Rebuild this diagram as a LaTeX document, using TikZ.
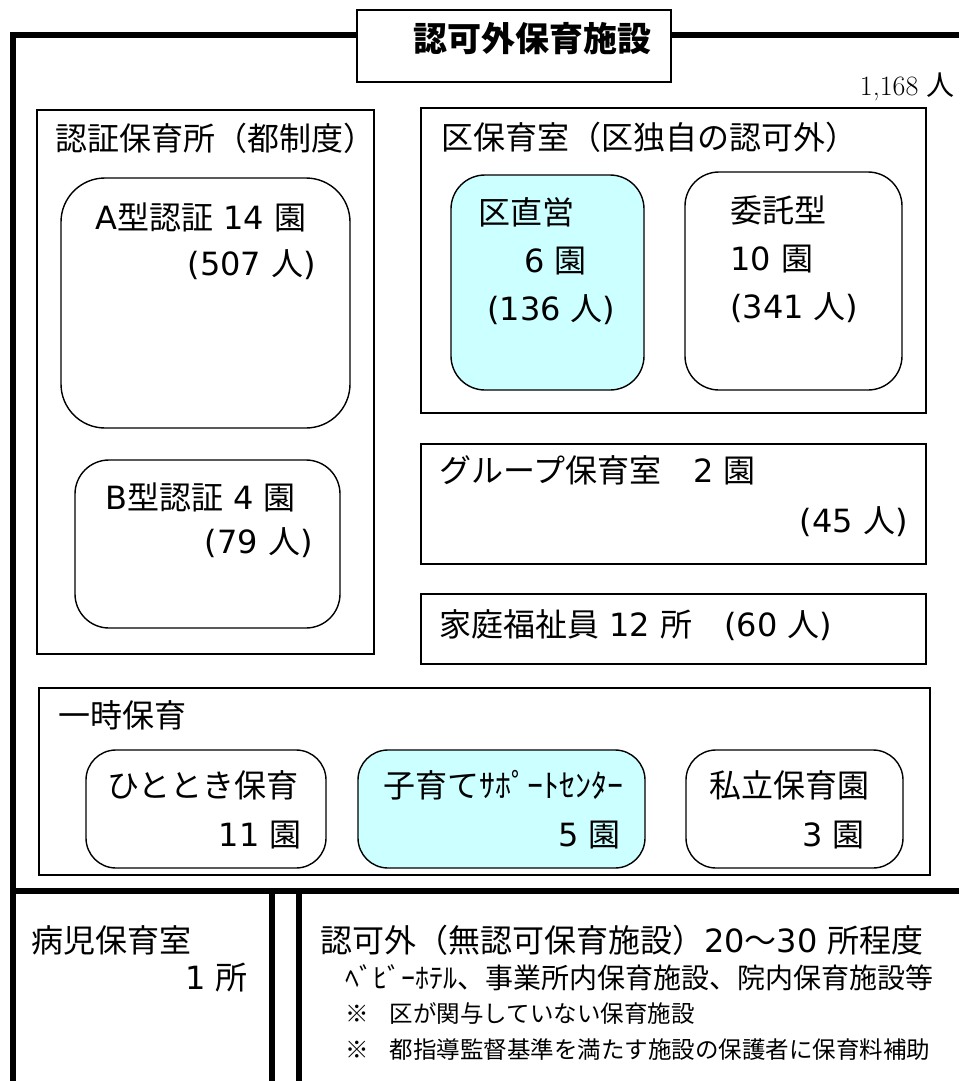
\documentclass[tikz,border=0pt]{standalone}
\usepackage{fontspec}
\newfontfamily\jpfont{Noto Sans CJK JP}
\newfontfamily\numfont{DejaVu Sans}
\usepackage{xcolor}
\usetikzlibrary{positioning}
\definecolor{paleCyan}{HTML}{CCFFFF}
% digits and brackets in a wider face
\newcommand\nm[1]{{\numfont #1}}

\begin{document}
\begin{tikzpicture}[x=1pt,y=-1pt,
    frame/.style={line width=5.5pt},
    box/.style={draw, line width=1.5pt},
    unit/.style={draw, line width=1.4pt, rounded corners=34pt},
    lbl/.style={inner sep=0pt, anchor=west, font=\jpfont\fontsize{32}{38}\selectfont},
    rlbl/.style={lbl, anchor=east},
    note/.style={lbl, font=\jpfont\fontsize{23.5}{28}\selectfont}]
    \useasboundingbox (0,0) rectangle (959,1081);

    % Thick outer frame and bottom split
    \draw[frame] (13,1081) -- (13,35) -- (959,35);
    \draw[frame] (13,891) -- (959,891);
    \draw[frame] (272,891) -- (272,1081);
    \draw[frame] (299,891) -- (299,1081);

    % Title
    \filldraw[box, fill=white] (357,10) rectangle (671,82);
    \node[lbl, anchor=center, font=\jpfont\bfseries\fontsize{34}{40}\selectfont] (title) at (532,39) {認可外保育施設};
    \node[inner sep=0pt, anchor=east, font=\fontsize{28}{32}\selectfont] (total) at (955,87) {1,168 {\jpfont 人}};

    % Left column
    \draw[box] (37,110) rectangle (374,654);
    \node[lbl] (ninsho) at (55,138) {認証保育所（都制度）};
    \draw[unit, rounded corners=44pt] (61,178) rectangle (350,428);
    \node[lbl] (typeA) at (95,217) {\nm{A}型認証\nm{ 14 }園};
    \node[rlbl] (typeAn) at (316,265) {\nm{(507 }人\nm{)}};
    \draw[unit] (75,460) rectangle (340,628);
    \node[lbl] (typeB) at (105,497) {\nm{B}型認証\nm{ 4 }園};
    \node[rlbl] (typeBn) at (313,543) {\nm{(79 }人\nm{)}};

    % Right column
    \draw[box] (421,108) rectangle (926,413);
    \node[lbl] (kuhoiku) at (441,137) {区保育室（区独自の認可外）};
    \filldraw[unit, fill=paleCyan] (451,175) rectangle (644,390);
    \node[lbl] (chokuei) at (478,212) {区直営};
    \node[lbl] (chokueiA) at (524,261) {\nm{6 }園};
    \node[lbl] (chokueiB) at (487,310) {\nm{(136 }人\nm{)}};
    \draw[unit] (685,172) rectangle (902,390);
    \node[lbl] (itaku) at (730,210) {委託型};
    \node[lbl] (itakuA) at (730,259) {\nm{10 }園};
    \node[lbl] (itakuB) at (730,308) {\nm{(341 }人\nm{)}};

    \draw[box] (421,444) rectangle (926,564);
    \node[lbl] (group) at (439,470) {グループ保育室　\nm{2 }園};
    \node[rlbl] (groupn) at (908,522) {\nm{(45 }人\nm{)}};
    \draw[box] (421,594) rectangle (926,664);
    \node[lbl] (katei) at (439,625) {家庭福祉員\nm{ 12 }所　\nm{(60 }人\nm{)}};

    % Temporary care
    \draw[box] (39,688) rectangle (930,875);
    \node[lbl] (ichiji) at (58,715) {一時保育};
    \foreach \xa/\xb/\col in {86/326/white, 358/645/paleCyan, 686/903/white}
        \filldraw[unit, rounded corners=30pt, fill=\col] (\xa,750) rectangle (\xb,868);
    \node[lbl] (hitotoki) at (107,785) {ひととき保育};
    \node[rlbl] (hitotokin) at (302,835) {\nm{11 }園};
    \node[lbl] (kosodate) at (383,785) {子育てｻﾎﾟｰﾄｾﾝﾀｰ};
    \node[rlbl] (kosodaten) at (621,835) {\nm{5 }園};
    \node[lbl] (shiritsu) at (709,785) {私立保育園};
    \node[rlbl] (shiritsun) at (865,835) {\nm{3 }園};

    % Bottom row
    \node[lbl] (byoji) at (31,940) {病児保育室};
    \node[rlbl] (byojin) at (248,978) {\nm{1 }所};
    \node[lbl] (muninka) at (320,940) {認可外（無認可保育施設）\nm{20}～\nm{30 }所程度};
    \node[lbl, font=\jpfont\fontsize{28}{32}\selectfont] (kinds) at (345,978) {ﾍﾞﾋﾞｰﾎﾃﾙ、事業所内保育施設、院内保育施設等};
    \node[note] (noteA) at (345,1014) {※\hspace{21pt}区が関与していない保育施設};
    \node[note] (noteB) at (345,1050) {※\hspace{21pt}都指導監督基準を満たす施設の保護者に保育料補助};
\end{tikzpicture}
\end{document}
